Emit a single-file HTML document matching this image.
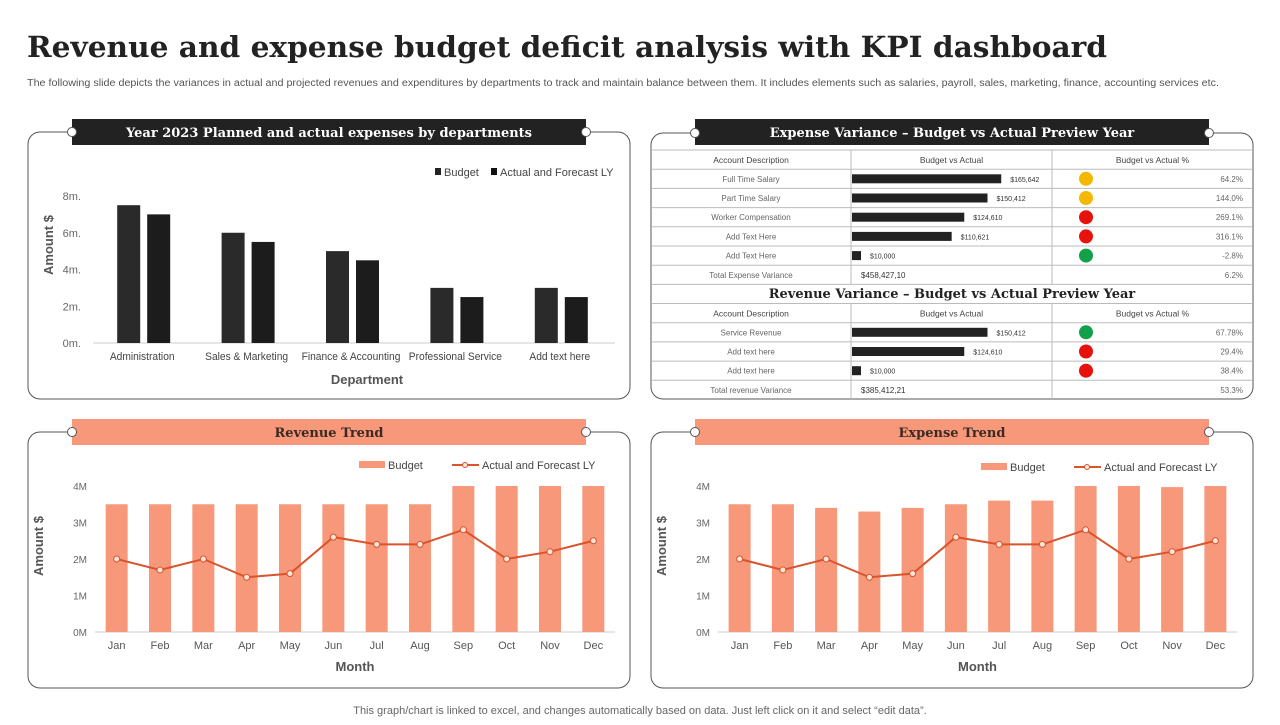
<!DOCTYPE html>
<html><head><meta charset="utf-8">
<style>
body{margin:0;background:#fff;width:1280px;height:720px;overflow:hidden;font-family:"Liberation Sans",sans-serif}
svg text{font-family:"Liberation Sans",sans-serif}
.serif{font-family:"DejaVu Serif","Liberation Serif",serif !important;font-weight:bold}
</style></head><body>
<svg id="s" width="1280" height="720" viewBox="0 0 1280 720" xmlns="http://www.w3.org/2000/svg">
<text class="serif" x="27" y="57" font-size="29" fill="#222" textLength="1080" lengthAdjust="spacingAndGlyphs">Revenue and expense budget deficit analysis with KPI dashboard</text>
<text x="27" y="86" font-size="10" fill="#555" textLength="1192" lengthAdjust="spacingAndGlyphs">The following slide depicts the variances in actual and projected revenues and expenditures by departments to track and maintain balance between them. It includes elements such as salaries, payroll, sales, marketing,  finance, accounting services etc.</text>
<text x="640" y="714" font-size="11" fill="#666" text-anchor="middle">This graph/chart is linked to excel,  and changes automatically based on data. Just left click on it and select “edit data”.</text>
<g id="g"></g>
</svg>
<script>
const NS="http://www.w3.org/2000/svg";
const G=document.getElementById('g');
function el(t,a,txt,p){const e=document.createElementNS(NS,t);for(const k in a)e.setAttribute(k,a[k]);if(txt!==undefined)e.textContent=txt;(p||G).appendChild(e);return e;}

// ---- data ----
const deptCats=["Administration","Sales & Marketing","Finance & Accounting","Professional Service","Add text here"];
const deptBudget=[7.5,6,5,3,3];
const deptActual=[7,5.5,4.5,2.5,2.5];
const deptTicks=["0m.","2m.","4m.","6m.","8m."];
const months=["Jan","Feb","Mar","Apr","May","Jun","Jul","Aug","Sep","Oct","Nov","Dec"];
const revBudget=[3.5,3.5,3.5,3.5,3.5,3.5,3.5,3.5,4,4,4,4];
const revActual=[2,1.7,2,1.5,1.6,2.6,2.4,2.4,2.8,2,2.2,2.5];
const expBudget=[3.5,3.5,3.4,3.3,3.4,3.5,3.6,3.6,4,4,3.97,4];
const expActual=[2,1.7,2,1.5,1.6,2.6,2.4,2.4,2.8,2,2.2,2.5];
const trendTicks=["0M","1M","2M","3M","4M"];
const expRows=["Full Time Salary","Part Time Salary","Worker Compensation","Add Text Here","Add Text Here"];
const expVals=[165642,150412,124610,110621,10000];
const expValLabels=["$165,642","$150,412","$124,610","$110,621","$10,000"];
const expPct=["64.2%","144.0%","269.1%","316.1%","-2.8%"];
const expColors=["#f5b800","#f5b800","#e8120c","#e8120c","#12a04a"];
const revRows=["Service Revenue","Add text here","Add text here"];
const revVals=[150412,124610,10000];
const revValLabels=["$150,412","$124,610","$10,000"];
const revPct=["67.78%","29.4%","38.4%"];
const revColors=["#12a04a","#e8120c","#e8120c"];

// ---- panels ----
function panel(x,y,w,h,bx,bw,by,title,dark,name){
  const r=el('rect',{x,y,width:w,height:h,rx:12,fill:'#fff',stroke:'#555','stroke-width':1});
  
  const b=el('rect',{x:bx,y:by,width:bw,height:26,fill:dark?'#222':'#f7987a'});
  
  [bx,bx+bw].forEach(cx=>{el('circle',{cx,cy:y,r:4.5,fill:'#fff',stroke:'#555'});});
  const t=el('text',{x:bx+bw/2,y:by+18,'font-size':13,'text-anchor':'middle',fill:dark?'#fff':'#3a2a22',class:'serif'},title);
  
}
panel(28,132,602,267,72,514,119,"Year 2023 Planned and actual expenses by departments",true,'dept-expenses');
panel(651,133,602,266,695,514,119,"Expense Variance – Budget vs Actual Preview Year",true,'expense-variance');
panel(28,432,602,256,72,514,419,"Revenue Trend",false,'revenue-trend');
panel(651,432,602,256,695,514,419,"Expense Trend",false,'expense-trend');

// ---- dept bar chart ----
(function(){
  const x0=93,x1=615,yb=343,yt=196,max=8;
  const y=v=>yb-(v/max)*(yb-yt);
  const cw=(x1-x0)/deptCats.length;
  deptTicks.forEach((t,i)=>{const e=el('text',{x:x0-12,y:y(i*2)+4,'font-size':11,fill:'#666','text-anchor':'end'},t);
    });
  el('line',{x1:x0,y1:yb,x2:x1,y2:yb,stroke:'#ccc'});
  deptCats.forEach((c,i)=>{
    const cx=x0+cw*(i+0.5);
    const b1=el('rect',{x:cx-28,y:y(deptBudget[i]),width:23,height:yb-y(deptBudget[i]),fill:'#2a2a2a'});
    
    const b2=el('rect',{x:cx+2,y:y(deptActual[i]),width:23,height:yb-y(deptActual[i]),fill:'#1c1c1c'});
    
    const t=el('text',{x:cx-3,y:360,'font-size':11,fill:'#444','text-anchor':'middle',transform:`translate(${cx-3} 0) scale(0.93 1) translate(${-(cx-3)} 0)`},c);
    
  });
  const yt2=el('text',{x:53,y:245,'font-size':13,'font-weight':'bold',fill:'#555','text-anchor':'middle',transform:'rotate(-90 53 245)'},'Amount $');
  
  const xt=el('text',{x:367,y:384,'font-size':13,'font-weight':'bold',fill:'#555','text-anchor':'middle'},'Department');
  
  el('rect',{x:435,y:168,width:6,height:7,fill:'#222'});
  const l1=el('text',{x:444,y:176,'font-size':11,fill:'#444'},'Budget');
  
  el('rect',{x:491,y:168,width:6,height:7,fill:'#111'});
  const l2=el('text',{x:500,y:176,'font-size':11,fill:'#444'},'Actual and Forecast LY');
  
})();

// ---- trend charts ----
function trend(x0,x1,budget,actual,pre,legY){
  const yb=632,yt=486,max=4;
  const y=v=>yb-(v/max)*(yb-yt);
  const cw=(x1-x0)/months.length;
  trendTicks.forEach((t,i)=>{const e=el('text',{x:x0-8,y:y(i)+4,'font-size':10,fill:'#666','text-anchor':'end'},t);
    });
  el('line',{x1:x0,y1:yb,x2:x1,y2:yb,stroke:'#ccc'});
  const pts=[];
  months.forEach((m,i)=>{
    const cx=x0+cw*(i+0.5);
    const b=el('rect',{x:cx-11,y:y(budget[i]),width:22,height:yb-y(budget[i]),fill:'#f7987a'});
    
    pts.push([cx,y(actual[i])]);
    const t=el('text',{x:cx,y:649,'font-size':11,fill:'#555','text-anchor':'middle'},m);
    
  });
  const pl=el('polyline',{points:pts.map(p=>p.join(',')).join(' '),fill:'none',stroke:'#d9532b','stroke-width':2});
  
  pts.forEach(p=>{const c=el('circle',{cx:p[0],cy:p[1],r:3,fill:'#fde6dc',stroke:'#d9532b','stroke-width':1});
    });
  const yl=x0-52;
  const yt2=el('text',{x:yl,y:546,'font-size':13,'font-weight':'bold',fill:'#555','text-anchor':'middle',transform:`rotate(-90 ${yl} 546)`},'Amount $');
  
  const xt=el('text',{x:(x0+x1)/2,y:671,'font-size':13,'font-weight':'bold',fill:'#555','text-anchor':'middle'},'Month');
  
  const lx=x1-256;
  el('rect',{x:lx,y:legY-4,width:26,height:7,fill:'#f7987a'});
  const l1=el('text',{x:lx+29,y:legY+4,'font-size':11,fill:'#444'},'Budget');
  
  el('line',{x1:lx+93,y1:legY,x2:lx+120,y2:legY,stroke:'#d9532b','stroke-width':2});
  el('circle',{cx:lx+106,cy:legY,r:2.5,fill:'#fde6dc',stroke:'#d9532b'});
  const l2=el('text',{x:lx+123,y:legY+4,'font-size':11,fill:'#444'},'Actual and Forecast LY');
  
}
trend(95,615,revBudget,revActual,'revenue',465);
trend(718,1237,expBudget,expActual,'expense',467);

// ---- tables ----
const C=[651,851,1052,1253], RH=19.2;
function hline(y){if(y<398)el('line',{x1:651,y1:y,x2:1253,y2:y,stroke:'#bbb'});}
function table(top,rows,vals,labels,pct,cols,total,totalPct,pre){
  hline(top);
  const hd=["Account Description","Budget vs Actual","Budget vs Actual %"];
  hd.forEach((h,i)=>{const t=el('text',{x:(C[i]+C[i+1])/2,y:top+13,'font-size':8.5,fill:'#444','text-anchor':'middle'},h);
    });
  const all=rows.length+2;
  for(let r=1;r<=all;r++)hline(top+RH*r);
  [851,1052].forEach(x=>el('line',{x1:x,y1:top,x2:x,y2:Math.min(top+RH*all,399),stroke:'#bbb'}));
  rows.forEach((rn,i)=>{
    const ry=top+RH*(i+1), cy=ry+RH/2;
    const t=el('text',{x:751,y:cy+3,'font-size':8,fill:'#666','text-anchor':'middle'},rn);
    
    const w=vals[i]/1110;
    const b=el('rect',{x:852,y:cy-4.5,width:w,height:9,fill:'#222'});
    
    const v=el('text',{x:852+w+9,y:cy+3,'font-size':7,fill:'#333'},labels[i]);
    
    const c=el('circle',{cx:1086,cy,r:7,fill:cols[i]});
    
    const p=el('text',{x:1243,y:cy+3,'font-size':8,fill:'#666','text-anchor':'end'},pct[i]);
    
  });
  const ty=top+RH*(rows.length+1)+RH/2+3;
  const a=el('text',{x:751,y:ty,'font-size':8,fill:'#666','text-anchor':'middle'},pre==='expense'?'Total Expense Variance':'Total revenue Variance');
  
  const b=el('text',{x:861,y:ty,'font-size':8,fill:'#333'},total);
  
  const c=el('text',{x:1243,y:ty,'font-size':8,fill:'#666','text-anchor':'end'},totalPct);
  
}
table(150,expRows,expVals,expValLabels,expPct,expColors,"$458,427,10","6.2%",'expense');
const rt=el('text',{x:952,y:298,'font-size':13,fill:'#222','text-anchor':'middle',class:'serif'},'Revenue Variance – Budget vs Actual Preview Year');

table(303.5,revRows,revVals,revValLabels,revPct,revColors,"$385,412,21","53.3%",'revenue');
</script>
</body></html>
